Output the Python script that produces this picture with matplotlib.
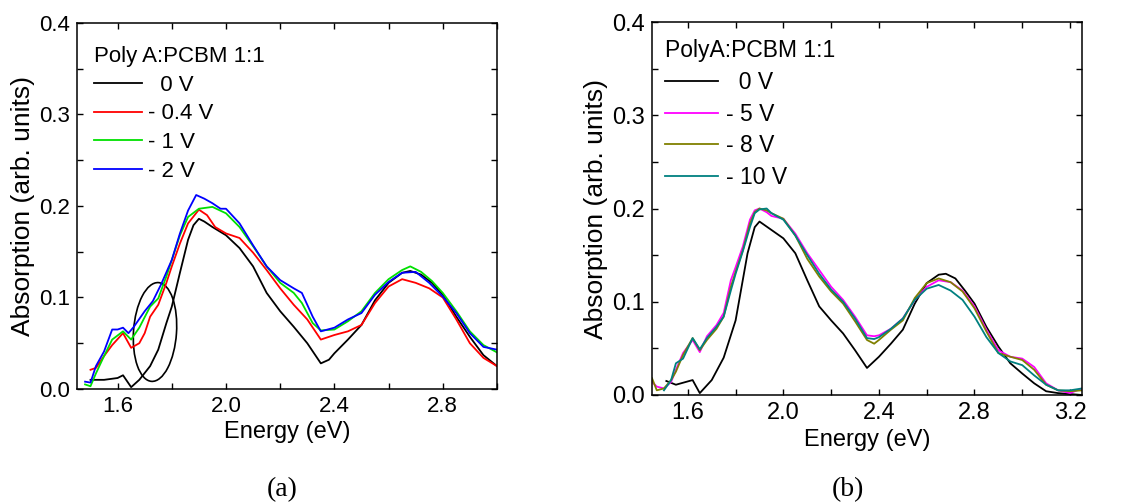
import numpy as np
import matplotlib
matplotlib.use("Agg")
import matplotlib.pyplot as plt
from matplotlib.patches import Ellipse
from matplotlib.ticker import MultipleLocator
import matplotlib.transforms as mtransforms

plt.rcParams['font.family'] = ['Liberation Sans', 'DejaVu Sans']

# ---------------- Panel (a) data ----------------
a_black_x = [1.50, 1.55, 1.60, 1.62, 1.65, 1.68, 1.72, 1.75, 1.78, 1.80, 1.83, 1.86, 1.88, 1.90, 1.92,
             1.95, 2.00, 2.05, 2.10, 2.15, 2.20, 2.25, 2.30, 2.35, 2.38, 2.40, 2.45, 2.50, 2.55, 2.60,
             2.65, 2.68, 2.72, 2.76, 2.80, 2.85, 2.90, 2.95, 3.00]
a_black_y = [0.010, 0.010, 0.012, 0.015, 0.002, 0.010, 0.025, 0.043, 0.072, 0.090, 0.127, 0.163, 0.179,
             0.186, 0.183, 0.177, 0.168, 0.154, 0.134, 0.105, 0.085, 0.068, 0.050, 0.028, 0.032, 0.039,
             0.054, 0.070, 0.097, 0.116, 0.127, 0.129, 0.125, 0.116, 0.103, 0.079, 0.057, 0.037, 0.025]

a_red_x = [1.50, 1.52, 1.55, 1.58, 1.62, 1.65, 1.68, 1.70, 1.72, 1.75, 1.78, 1.80, 1.83, 1.86, 1.90,
           1.93, 1.96, 2.00, 2.05, 2.10, 2.15, 2.20, 2.25, 2.30, 2.35, 2.40, 2.45, 2.50, 2.55, 2.60,
           2.65, 2.70, 2.75, 2.80, 2.85, 2.90, 2.95, 3.00]
a_red_y = [0.021, 0.023, 0.036, 0.048, 0.061, 0.045, 0.050, 0.061, 0.079, 0.092, 0.116, 0.134, 0.159,
           0.181, 0.196, 0.190, 0.177, 0.170, 0.165, 0.149, 0.130, 0.110, 0.092, 0.076, 0.054, 0.059,
           0.063, 0.070, 0.094, 0.112, 0.120, 0.116, 0.110, 0.100, 0.076, 0.050, 0.034, 0.025]

a_green_x = [1.48, 1.50, 1.52, 1.55, 1.58, 1.62, 1.65, 1.68, 1.72, 1.75, 1.78, 1.80, 1.83, 1.86, 1.90,
             1.95, 2.00, 2.05, 2.10, 2.15, 2.20, 2.25, 2.28, 2.32, 2.35, 2.40, 2.45, 2.50, 2.55, 2.60,
             2.65, 2.68, 2.72, 2.76, 2.80, 2.85, 2.90, 2.95, 3.00]
a_green_y = [0.005, 0.003, 0.017, 0.036, 0.054, 0.063, 0.054, 0.067, 0.090, 0.099, 0.123, 0.141, 0.168,
             0.188, 0.197, 0.199, 0.192, 0.177, 0.156, 0.134, 0.116, 0.105, 0.094, 0.072, 0.064, 0.065,
             0.074, 0.085, 0.105, 0.120, 0.130, 0.134, 0.128, 0.118, 0.105, 0.085, 0.063, 0.048, 0.040]

a_blue_x = [1.48, 1.50, 1.52, 1.55, 1.58, 1.60, 1.62, 1.64, 1.66, 1.70, 1.73, 1.76, 1.80, 1.83, 1.86,
            1.89, 1.92, 1.95, 1.98, 2.00, 2.05, 2.10, 2.15, 2.20, 2.25, 2.28, 2.32, 2.35, 2.40, 2.45,
            2.50, 2.55, 2.60, 2.65, 2.70, 2.75, 2.80, 2.85, 2.90, 2.95, 3.00]
a_blue_y = [0.008, 0.007, 0.025, 0.041, 0.065, 0.065, 0.067, 0.061, 0.068, 0.085, 0.096, 0.114, 0.141,
            0.170, 0.195, 0.212, 0.208, 0.203, 0.197, 0.197, 0.181, 0.157, 0.134, 0.119, 0.110, 0.105,
            0.079, 0.063, 0.067, 0.076, 0.083, 0.103, 0.117, 0.127, 0.128, 0.116, 0.101, 0.083, 0.061,
            0.046, 0.043]

a_labels = ["  0 V", "- 0.4 V", "- 1 V", "- 2 V"]
a_colors = ["#000000", "#ff0000", "#00e000", "#0000ff"]

# ---------------- Panel (b) data ----------------
b_black_x = [1.51, 1.55, 1.62, 1.65, 1.70, 1.75, 1.80, 1.85, 1.88, 1.90, 1.95, 2.00, 2.05, 2.10, 2.15,
             2.20, 2.25, 2.30, 2.35, 2.40, 2.45, 2.50, 2.55, 2.60, 2.65, 2.68, 2.72, 2.76, 2.80, 2.85,
             2.90, 2.95, 3.00, 3.05, 3.10, 3.15, 3.20, 3.25]
b_black_y = [0.015, 0.011, 0.016, 0.002, 0.016, 0.040, 0.080, 0.152, 0.180, 0.186, 0.177, 0.168, 0.152,
             0.123, 0.095, 0.080, 0.066, 0.048, 0.029, 0.041, 0.055, 0.070, 0.098, 0.120, 0.129, 0.130,
             0.125, 0.112, 0.098, 0.073, 0.052, 0.034, 0.023, 0.0125, 0.004, 0.002, 0.001, 0.000]

b_x = [1.45, 1.47, 1.50, 1.53, 1.55, 1.58, 1.62, 1.65, 1.68, 1.72, 1.75, 1.78, 1.80, 1.83, 1.86, 1.88,
       1.90, 1.93, 1.95, 2.00, 2.05, 2.10, 2.15, 2.20, 2.25, 2.30, 2.35, 2.38, 2.40, 2.45, 2.50, 2.55,
       2.60, 2.65, 2.70, 2.75, 2.80, 2.85, 2.90, 2.95, 3.00, 3.05, 3.10, 3.15, 3.20, 3.25]
b_magenta_y = [0.014, 0.009, 0.007, 0.014, 0.027, 0.045, 0.059, 0.046, 0.063, 0.075, 0.088, 0.123, 0.137,
               0.159, 0.188, 0.198, 0.200, 0.196, 0.192, 0.189, 0.173, 0.152, 0.134, 0.116, 0.102, 0.084,
               0.064, 0.063, 0.064, 0.071, 0.082, 0.102, 0.116, 0.123, 0.121, 0.112, 0.095, 0.070, 0.048,
               0.041, 0.039, 0.030, 0.0125, 0.005, 0.002, 0.007]
b_olive_y = [0.018, 0.005, 0.007, 0.016, 0.025, 0.043, 0.061, 0.048, 0.059, 0.071, 0.084, 0.116, 0.132,
             0.155, 0.184, 0.196, 0.200, 0.198, 0.195, 0.189, 0.171, 0.146, 0.127, 0.111, 0.098, 0.079,
             0.059, 0.055, 0.059, 0.070, 0.080, 0.104, 0.120, 0.125, 0.121, 0.111, 0.093, 0.068, 0.045,
             0.041, 0.0375, 0.027, 0.011, 0.005, 0.004, 0.005]
b_teal_x = b_x[2:]
b_teal_y = [0.005, 0.016, 0.034, 0.039, 0.061, 0.049, 0.061, 0.073, 0.084, 0.112, 0.130, 0.154, 0.180,
            0.195, 0.199, 0.200, 0.195, 0.188, 0.171, 0.150, 0.130, 0.113, 0.100, 0.082, 0.061, 0.060,
            0.062, 0.071, 0.082, 0.102, 0.114, 0.118, 0.112, 0.102, 0.084, 0.062, 0.045, 0.036, 0.032,
            0.021, 0.011, 0.005, 0.005, 0.007]

b_labels = ["  0 V", "- 5 V", "- 8 V", "- 10 V"]
b_colors = ["#000000", "#ff00ff", "#808000", "#008080"]

xticks_a = [1.6, 2.0, 2.4, 2.8]
xticks_b = [1.6, 2.0, 2.4, 2.8, 3.2]
yticks = [0.0, 0.1, 0.2, 0.3, 0.4]

fig = plt.figure(figsize=(11.30, 5.04), dpi=100)
ax1 = fig.add_axes([0.0681, 0.2282, 0.3717, 0.7262])
ax2 = fig.add_axes([0.5770, 0.2163, 0.3805, 0.7400])

lw = 1.3

def style(ax, xlim, xticks, fs, xlpad):
    ax.set_xlim(*xlim)
    ax.set_ylim(0, 0.4)
    ax.set_xticks(xticks)
    ax.set_xticklabels([f"{t:.1f}" for t in xticks])
    ax.set_yticks(yticks)
    ax.set_yticklabels([f"{t:.1f}" for t in yticks])
    ax.xaxis.set_minor_locator(MultipleLocator(0.2))
    ax.yaxis.set_minor_locator(MultipleLocator(0.05))
    ax.tick_params(which='both', direction='in', top=True, right=True, labelsize=fs, width=1.0)
    ax.tick_params(axis='x', which='both', pad=5)
    ax.tick_params(axis='y', which='both', pad=5)
    ax.tick_params(which='major', length=4)
    ax.tick_params(which='minor', length=4)
    for s in ax.spines.values():
        s.set_linewidth(1.1)
    ax.set_xlabel("Energy (eV)", fontsize=17, labelpad=xlpad)
    ax.set_ylabel("Absorption (arb. units)", fontsize=19, labelpad=3)

# Panel (a)
ax1.plot(a_black_x, a_black_y, color=a_colors[0], lw=lw, label=a_labels[0])
ax1.plot(a_red_x, a_red_y, color=a_colors[1], lw=lw, label=a_labels[1])
ax1.plot(a_green_x, a_green_y, color=a_colors[2], lw=lw, label=a_labels[2])
ax1.plot(a_blue_x, a_blue_y, color=a_colors[3], lw=lw, label=a_labels[3])
style(ax1, (1.45, 3.0), xticks_a, 16, 3)
ell_trans = fig.dpi_scale_trans + mtransforms.ScaledTranslation(1.738, 0.0623, ax1.transData)
ax1.add_patch(Ellipse((0, 0), 0.43, 0.99, angle=-4, fill=False, edgecolor='black', lw=1.2,
                      transform=ell_trans))
leg1 = ax1.legend(title="Poly A:PCBM 1:1", loc='upper left', bbox_to_anchor=(0.019, 0.962),
                  frameon=False, fontsize=16, title_fontsize=16, handlelength=2.15,
                  handletextpad=0.3, labelspacing=0.35, borderpad=0.4, borderaxespad=0,
                  alignment='left')

# Panel (b)
ax2.plot(b_black_x, b_black_y, color=b_colors[0], lw=lw, label=b_labels[0])
ax2.plot(b_x, b_magenta_y, color=b_colors[1], lw=lw, label=b_labels[1])
ax2.plot(b_x, b_olive_y, color=b_colors[2], lw=lw, label=b_labels[2])
ax2.plot(b_teal_x, b_teal_y, color=b_colors[3], lw=lw, label=b_labels[3])
style(ax2, (1.45, 3.25), xticks_b, 17, 4)
leg2 = ax2.legend(title="PolyA:PCBM 1:1", loc='upper left', bbox_to_anchor=(0.014, 0.972),
                  frameon=False, fontsize=16.5, title_fontsize=16.5, handlelength=2.3,
                  handletextpad=0.35, labelspacing=0.38, borderpad=0.3, borderaxespad=0,
                  alignment='left')

fig.text(0.2496, 0.028, "(a)", fontsize=20, family='Liberation Serif', ha='center', va='center')
fig.text(0.7505, 0.028, "(b)", fontsize=20, family='Liberation Serif', ha='center', va='center')

fig.savefig("out.png", dpi=100)
